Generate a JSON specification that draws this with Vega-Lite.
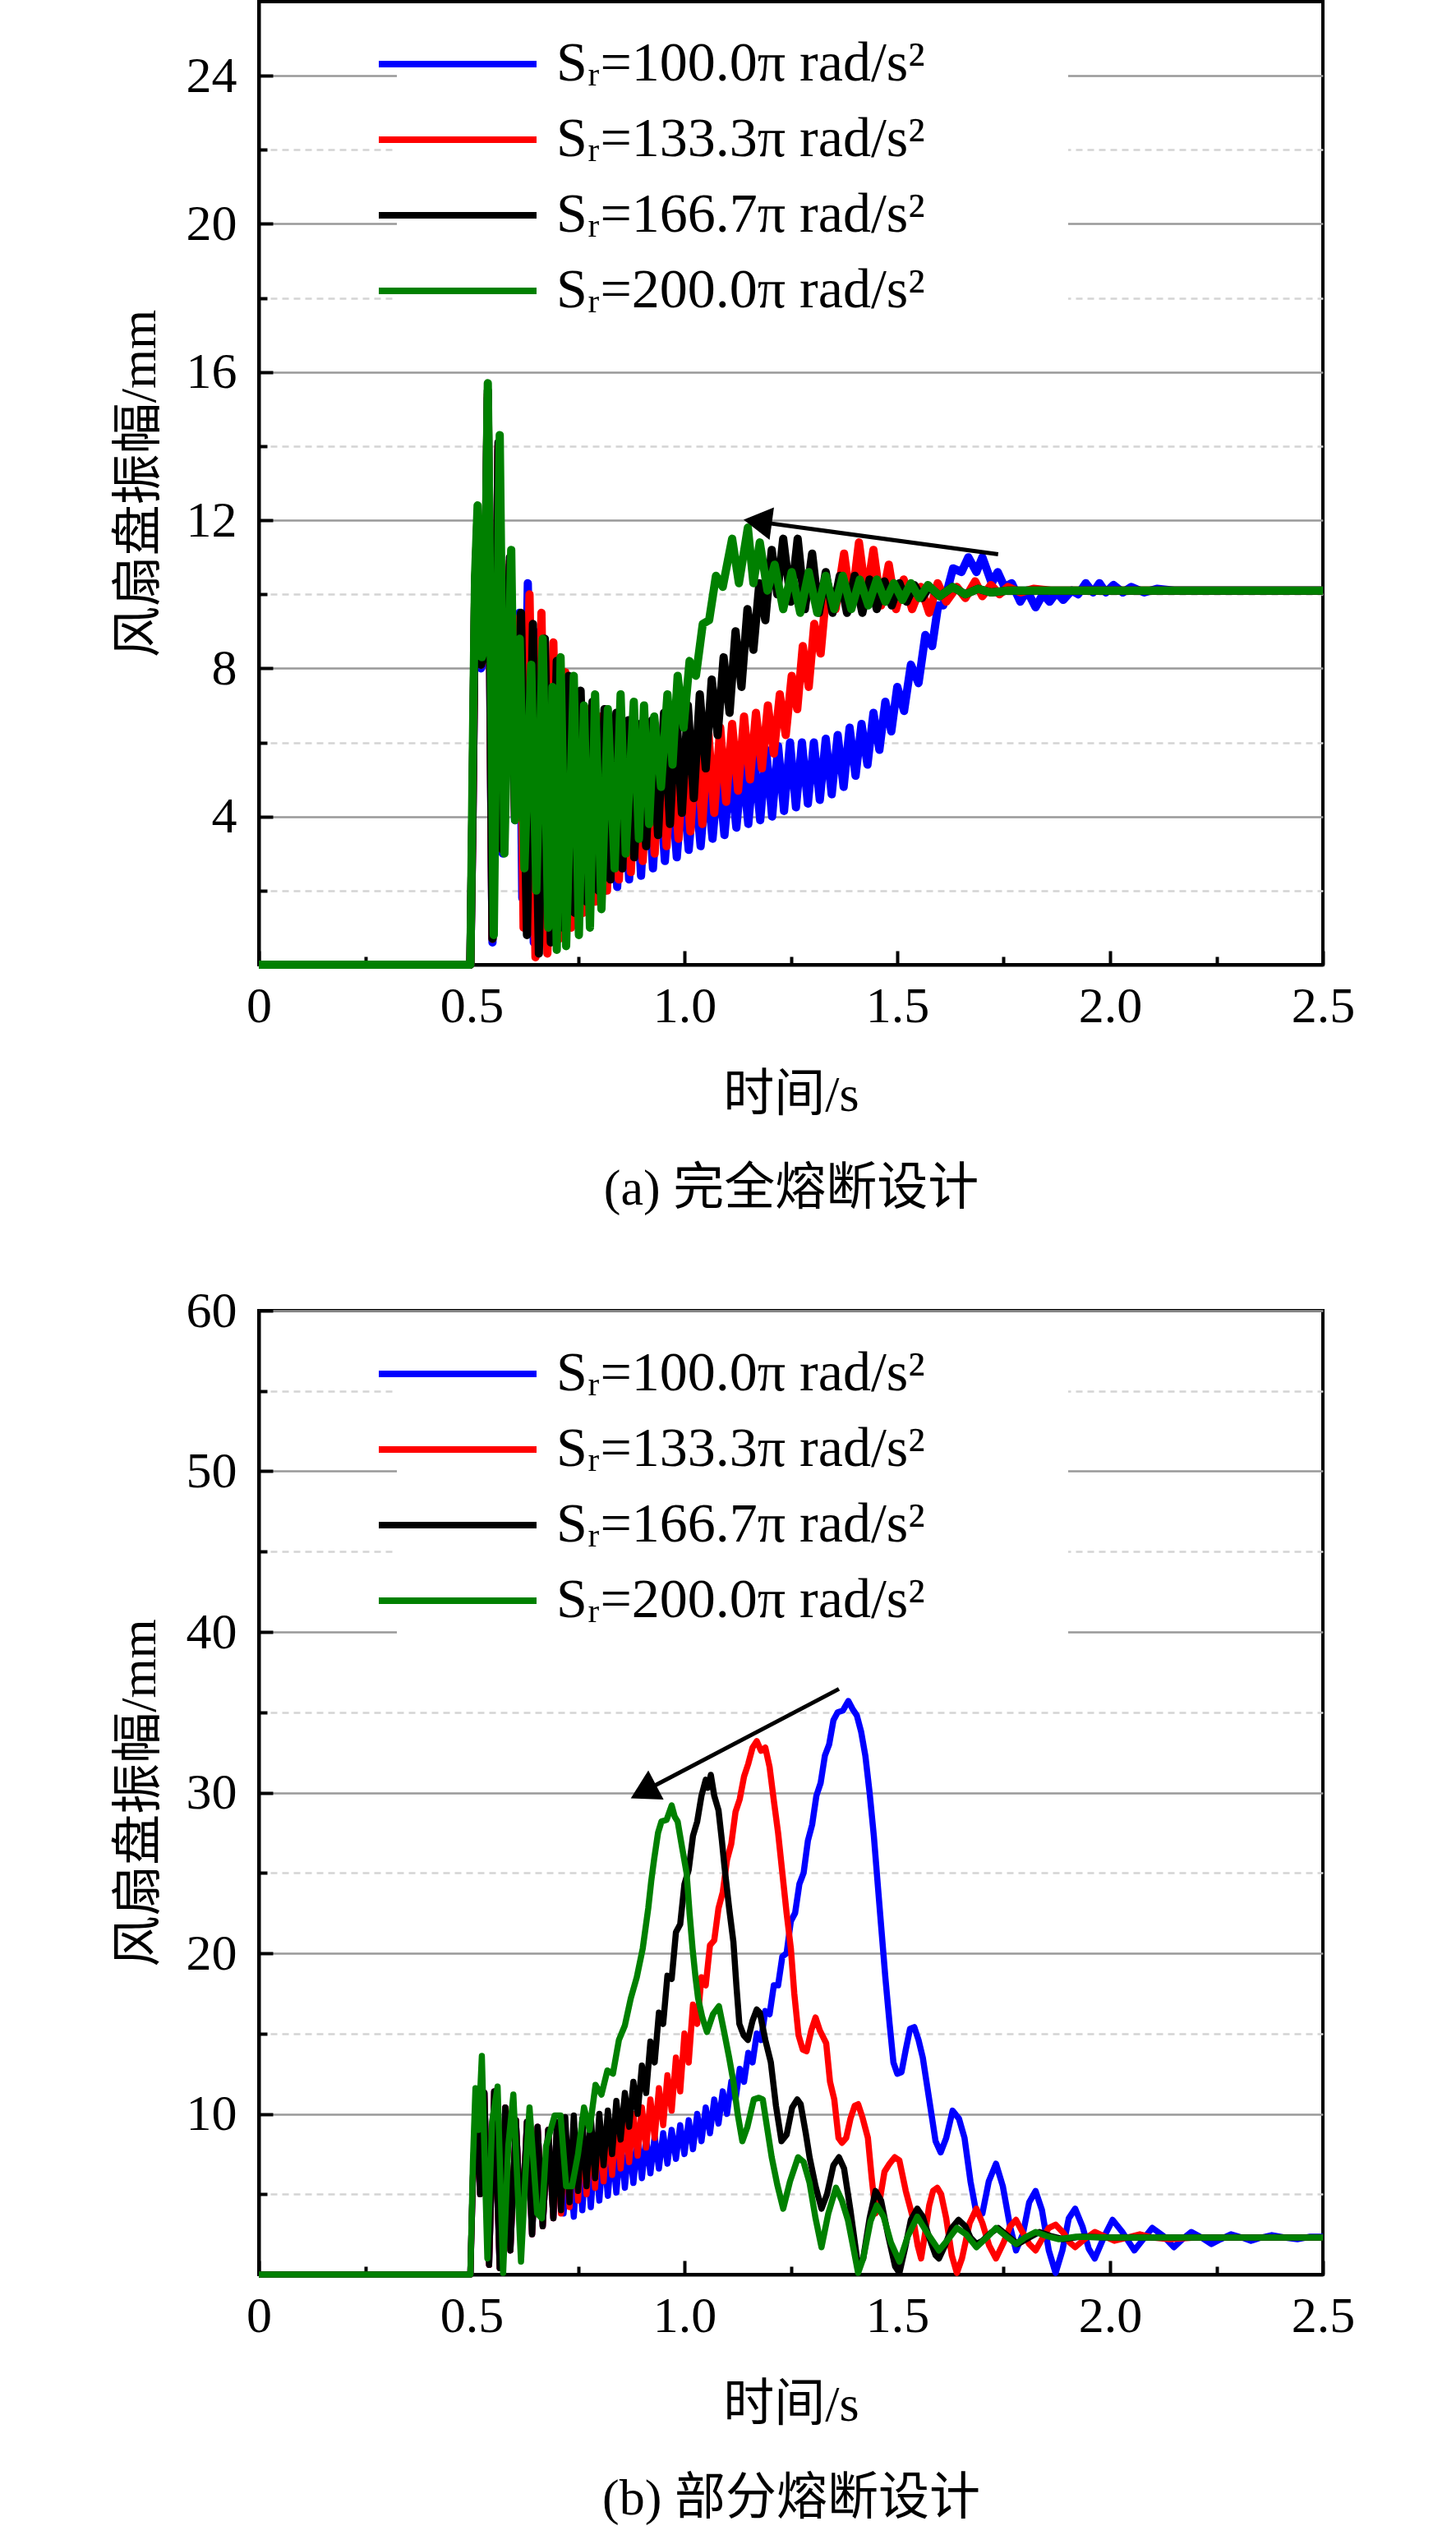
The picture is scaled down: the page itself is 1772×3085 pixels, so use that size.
{
  "$schema": "https://vega.github.io/schema/vega-lite/v6.json",
  "background": "white",
  "padding": {"left": 136, "top": 0, "right": 0, "bottom": 0},
  "bounds": "flush",
  "spacing": 421,
  "config": {
    "view": {"stroke": "black", "strokeWidth": 4},
    "axis": {
      "domainColor": "black", "domainWidth": 4,
      "tickColor": "black", "tickWidth": 4,
      "labelFont": "Liberation Serif", "labelFontSize": 62, "labelColor": "black",
      "titleFont": "Liberation Serif, Noto Sans CJK SC", "titleFontSize": 62,
      "titleFontWeight": "normal", "titleColor": "black"
    }
  },
  "resolve": {"legend": {"color": "independent"}},
  "datasets": {
    "a": [
      {"s":"100.0","t":0,"v":0},{"s":"100.0","t":0.497,"v":0},{"s":"100.0","t":0.502,"v":4},{"s":"100.0","t":0.508,"v":10},{"s":"100.0","t":0.514,"v":12},{"s":"100.0","t":0.522,"v":8},{"s":"100.0","t":0.53,"v":8.3},{"s":"100.0","t":0.538,"v":15.3},{"s":"100.0","t":0.549,"v":0.6},{"s":"100.0","t":0.563,"v":13.9},{"s":"100.0","t":0.573,"v":3},{"s":"100.0","t":0.59,"v":10.8},{"s":"100.0","t":0.602,"v":3.9},{"s":"100.0","t":0.612,"v":9.5},{"s":"100.0","t":0.619,"v":1.8},{"s":"100.0","t":0.632,"v":10.3},{"s":"100.0","t":0.646,"v":0.6},{"s":"100.0","t":0.66,"v":9},{"s":"100.0","t":0.674,"v":0.8},{"s":"100.0","t":0.688,"v":8},{"s":"100.0","t":0.702,"v":1.2},{"s":"100.0","t":0.716,"v":7.3},{"s":"100.0","t":0.73,"v":1.4},{"s":"100.0","t":0.744,"v":6.9},{"s":"100.0","t":0.758,"v":1.6},{"s":"100.0","t":0.772,"v":6.5},{"s":"100.0","t":0.786,"v":1.8},{"s":"100.0","t":0.8,"v":6.2},{"s":"100.0","t":0.814,"v":2},{"s":"100.0","t":0.828,"v":6},{"s":"100.0","t":0.842,"v":2.1},{"s":"100.0","t":0.856,"v":5.8},{"s":"100.0","t":0.87,"v":2.3},{"s":"100.0","t":0.884,"v":5.6},{"s":"100.0","t":0.898,"v":2.4},{"s":"100.0","t":0.912,"v":5.4},{"s":"100.0","t":0.926,"v":2.6},{"s":"100.0","t":0.94,"v":5.2},{"s":"100.0","t":0.954,"v":2.8},{"s":"100.0","t":0.968,"v":5.1},{"s":"100.0","t":0.982,"v":2.9},{"s":"100.0","t":0.996,"v":5},{"s":"100.0","t":1.01,"v":3.1},{"s":"100.0","t":1.024,"v":5},{"s":"100.0","t":1.038,"v":3.2},{"s":"100.0","t":1.052,"v":5.1},{"s":"100.0","t":1.066,"v":3.4},{"s":"100.0","t":1.08,"v":5.2},{"s":"100.0","t":1.094,"v":3.5},{"s":"100.0","t":1.108,"v":5.3},{"s":"100.0","t":1.122,"v":3.7},{"s":"100.0","t":1.136,"v":5.5},{"s":"100.0","t":1.15,"v":3.8},{"s":"100.0","t":1.164,"v":5.6},{"s":"100.0","t":1.178,"v":3.9},{"s":"100.0","t":1.192,"v":5.8},{"s":"100.0","t":1.206,"v":4},{"s":"100.0","t":1.22,"v":5.9},{"s":"100.0","t":1.234,"v":4.15},{"s":"100.0","t":1.248,"v":6},{"s":"100.0","t":1.262,"v":4.25},{"s":"100.0","t":1.276,"v":6},{"s":"100.0","t":1.29,"v":4.35},{"s":"100.0","t":1.304,"v":6},{"s":"100.0","t":1.318,"v":4.45},{"s":"100.0","t":1.332,"v":6.1},{"s":"100.0","t":1.346,"v":4.6},{"s":"100.0","t":1.36,"v":6.2},{"s":"100.0","t":1.374,"v":4.8},{"s":"100.0","t":1.388,"v":6.4},{"s":"100.0","t":1.402,"v":5.1},{"s":"100.0","t":1.416,"v":6.5},{"s":"100.0","t":1.43,"v":5.4},{"s":"100.0","t":1.444,"v":6.8},{"s":"100.0","t":1.458,"v":5.8},{"s":"100.0","t":1.472,"v":7.1},{"s":"100.0","t":1.486,"v":6.3},{"s":"100.0","t":1.5,"v":7.5},{"s":"100.0","t":1.516,"v":6.85},{"s":"100.0","t":1.532,"v":8.1},{"s":"100.0","t":1.55,"v":7.6},{"s":"100.0","t":1.566,"v":8.9},{"s":"100.0","t":1.582,"v":8.6},{"s":"100.0","t":1.596,"v":9.7},{"s":"100.0","t":1.608,"v":9.7},{"s":"100.0","t":1.631,"v":10.7},{"s":"100.0","t":1.651,"v":10.6},{"s":"100.0","t":1.667,"v":11},{"s":"100.0","t":1.686,"v":10.6},{"s":"100.0","t":1.7,"v":11},{"s":"100.0","t":1.722,"v":10.3},{"s":"100.0","t":1.736,"v":10.6},{"s":"100.0","t":1.752,"v":10.2},{"s":"100.0","t":1.769,"v":10.3},{"s":"100.0","t":1.789,"v":9.8},{"s":"100.0","t":1.805,"v":10.1},{"s":"100.0","t":1.825,"v":9.65},{"s":"100.0","t":1.842,"v":10},{"s":"100.0","t":1.858,"v":9.8},{"s":"100.0","t":1.874,"v":10.05},{"s":"100.0","t":1.89,"v":9.85},{"s":"100.0","t":1.91,"v":10.1},{"s":"100.0","t":1.925,"v":10},{"s":"100.0","t":1.943,"v":10.3},{"s":"100.0","t":1.96,"v":10.05},{"s":"100.0","t":1.975,"v":10.3},{"s":"100.0","t":1.99,"v":10.05},{"s":"100.0","t":2.008,"v":10.25},{"s":"100.0","t":2.03,"v":10.05},{"s":"100.0","t":2.05,"v":10.2},{"s":"100.0","t":2.08,"v":10.05},{"s":"100.0","t":2.11,"v":10.15},{"s":"100.0","t":2.15,"v":10.1},{"s":"100.0","t":2.5,"v":10.1},
      {"s":"133.3","t":0,"v":0},{"s":"133.3","t":0.497,"v":0},{"s":"133.3","t":0.502,"v":4},{"s":"133.3","t":0.508,"v":10.1},{"s":"133.3","t":0.514,"v":12.1},{"s":"133.3","t":0.522,"v":8.1},{"s":"133.3","t":0.53,"v":8.4},{"s":"133.3","t":0.538,"v":15.4},{"s":"133.3","t":0.549,"v":0.7},{"s":"133.3","t":0.563,"v":14},{"s":"133.3","t":0.573,"v":3.1},{"s":"133.3","t":0.59,"v":10.9},{"s":"133.3","t":0.602,"v":4},{"s":"133.3","t":0.614,"v":9.4},{"s":"133.3","t":0.622,"v":1},{"s":"133.3","t":0.636,"v":10},{"s":"133.3","t":0.65,"v":0.2},{"s":"133.3","t":0.664,"v":9.5},{"s":"133.3","t":0.678,"v":0.3},{"s":"133.3","t":0.692,"v":8.7},{"s":"133.3","t":0.706,"v":0.7},{"s":"133.3","t":0.72,"v":7.9},{"s":"133.3","t":0.734,"v":1},{"s":"133.3","t":0.748,"v":7.3},{"s":"133.3","t":0.762,"v":1.4},{"s":"133.3","t":0.776,"v":6.9},{"s":"133.3","t":0.79,"v":1.7},{"s":"133.3","t":0.804,"v":6.7},{"s":"133.3","t":0.818,"v":2},{"s":"133.3","t":0.832,"v":6.6},{"s":"133.3","t":0.846,"v":2.3},{"s":"133.3","t":0.86,"v":6.5},{"s":"133.3","t":0.874,"v":2.5},{"s":"133.3","t":0.888,"v":6.4},{"s":"133.3","t":0.902,"v":2.8},{"s":"133.3","t":0.916,"v":6.2},{"s":"133.3","t":0.93,"v":3},{"s":"133.3","t":0.944,"v":6},{"s":"133.3","t":0.958,"v":3.2},{"s":"133.3","t":0.972,"v":5.9},{"s":"133.3","t":0.986,"v":3.4},{"s":"133.3","t":1,"v":5.9},{"s":"133.3","t":1.014,"v":3.6},{"s":"133.3","t":1.028,"v":6.1},{"s":"133.3","t":1.042,"v":3.8},{"s":"133.3","t":1.056,"v":6.3},{"s":"133.3","t":1.07,"v":4.1},{"s":"133.3","t":1.084,"v":6.4},{"s":"133.3","t":1.098,"v":4.4},{"s":"133.3","t":1.112,"v":6.5},{"s":"133.3","t":1.126,"v":4.7},{"s":"133.3","t":1.14,"v":6.7},{"s":"133.3","t":1.154,"v":5},{"s":"133.3","t":1.168,"v":6.8},{"s":"133.3","t":1.182,"v":5.3},{"s":"133.3","t":1.196,"v":7},{"s":"133.3","t":1.21,"v":5.7},{"s":"133.3","t":1.224,"v":7.3},{"s":"133.3","t":1.238,"v":6.2},{"s":"133.3","t":1.252,"v":7.8},{"s":"133.3","t":1.265,"v":6.9},{"s":"133.3","t":1.278,"v":8.6},{"s":"133.3","t":1.292,"v":7.5},{"s":"133.3","t":1.305,"v":9.2},{"s":"133.3","t":1.32,"v":8.4},{"s":"133.3","t":1.335,"v":10.3},{"s":"133.3","t":1.355,"v":9.6},{"s":"133.3","t":1.375,"v":11.1},{"s":"133.3","t":1.392,"v":9.7},{"s":"133.3","t":1.41,"v":11.4},{"s":"133.3","t":1.427,"v":9.9},{"s":"133.3","t":1.444,"v":11.2},{"s":"133.3","t":1.462,"v":9.7},{"s":"133.3","t":1.48,"v":10.8},{"s":"133.3","t":1.497,"v":9.6},{"s":"133.3","t":1.515,"v":10.4},{"s":"133.3","t":1.535,"v":9.6},{"s":"133.3","t":1.555,"v":10.2},{"s":"133.3","t":1.575,"v":9.5},{"s":"133.3","t":1.595,"v":10.3},{"s":"133.3","t":1.615,"v":9.8},{"s":"133.3","t":1.64,"v":10.2},{"s":"133.3","t":1.66,"v":9.9},{"s":"133.3","t":1.683,"v":10.35},{"s":"133.3","t":1.7,"v":9.95},{"s":"133.3","t":1.72,"v":10.25},{"s":"133.3","t":1.74,"v":10},{"s":"133.3","t":1.76,"v":10.2},{"s":"133.3","t":1.79,"v":10.05},{"s":"133.3","t":1.82,"v":10.15},{"s":"133.3","t":1.86,"v":10.1},{"s":"133.3","t":2.5,"v":10.1},
      {"s":"166.7","t":0,"v":0},{"s":"166.7","t":0.497,"v":0},{"s":"166.7","t":0.502,"v":4},{"s":"166.7","t":0.508,"v":10.1},{"s":"166.7","t":0.514,"v":12.1},{"s":"166.7","t":0.522,"v":8.1},{"s":"166.7","t":0.53,"v":8.4},{"s":"166.7","t":0.538,"v":15.5},{"s":"166.7","t":0.549,"v":0.7},{"s":"166.7","t":0.563,"v":14.1},{"s":"166.7","t":0.573,"v":3.1},{"s":"166.7","t":0.59,"v":11},{"s":"166.7","t":0.602,"v":4},{"s":"166.7","t":0.616,"v":9.5},{"s":"166.7","t":0.63,"v":0.8},{"s":"166.7","t":0.644,"v":9.2},{"s":"166.7","t":0.658,"v":0.3},{"s":"166.7","t":0.672,"v":8.8},{"s":"166.7","t":0.686,"v":0.6},{"s":"166.7","t":0.7,"v":8.2},{"s":"166.7","t":0.714,"v":1},{"s":"166.7","t":0.728,"v":7.8},{"s":"166.7","t":0.742,"v":1.4},{"s":"166.7","t":0.756,"v":7.4},{"s":"166.7","t":0.77,"v":1.7},{"s":"166.7","t":0.784,"v":7.1},{"s":"166.7","t":0.798,"v":2},{"s":"166.7","t":0.812,"v":6.9},{"s":"166.7","t":0.826,"v":2.3},{"s":"166.7","t":0.84,"v":6.8},{"s":"166.7","t":0.854,"v":2.6},{"s":"166.7","t":0.868,"v":6.6},{"s":"166.7","t":0.882,"v":2.9},{"s":"166.7","t":0.896,"v":6.5},{"s":"166.7","t":0.91,"v":3.2},{"s":"166.7","t":0.924,"v":6.6},{"s":"166.7","t":0.938,"v":3.5},{"s":"166.7","t":0.952,"v":6.8},{"s":"166.7","t":0.966,"v":3.8},{"s":"166.7","t":0.98,"v":7},{"s":"166.7","t":0.994,"v":4.1},{"s":"166.7","t":1.008,"v":7},{"s":"166.7","t":1.022,"v":4.5},{"s":"166.7","t":1.036,"v":7.3},{"s":"166.7","t":1.05,"v":5.3},{"s":"166.7","t":1.064,"v":7.7},{"s":"166.7","t":1.078,"v":6.2},{"s":"166.7","t":1.092,"v":8.3},{"s":"166.7","t":1.106,"v":6.8},{"s":"166.7","t":1.12,"v":9},{"s":"166.7","t":1.134,"v":7.5},{"s":"166.7","t":1.148,"v":9.6},{"s":"166.7","t":1.162,"v":8.5},{"s":"166.7","t":1.176,"v":10.3},{"s":"166.7","t":1.19,"v":9.3},{"s":"166.7","t":1.205,"v":11.2},{"s":"166.7","t":1.218,"v":10},{"s":"166.7","t":1.232,"v":11.5},{"s":"166.7","t":1.25,"v":9.8},{"s":"166.7","t":1.266,"v":11.5},{"s":"166.7","t":1.283,"v":9.6},{"s":"166.7","t":1.3,"v":11.1},{"s":"166.7","t":1.316,"v":9.5},{"s":"166.7","t":1.332,"v":10.6},{"s":"166.7","t":1.348,"v":9.5},{"s":"166.7","t":1.365,"v":10.5},{"s":"166.7","t":1.382,"v":9.5},{"s":"166.7","t":1.4,"v":10.5},{"s":"166.7","t":1.418,"v":9.5},{"s":"166.7","t":1.435,"v":10.4},{"s":"166.7","t":1.452,"v":9.6},{"s":"166.7","t":1.47,"v":10.35},{"s":"166.7","t":1.487,"v":9.7},{"s":"166.7","t":1.505,"v":10.3},{"s":"166.7","t":1.522,"v":9.8},{"s":"166.7","t":1.54,"v":10.25},{"s":"166.7","t":1.558,"v":9.9},{"s":"166.7","t":1.575,"v":10.2},{"s":"166.7","t":1.6,"v":9.95},{"s":"166.7","t":1.63,"v":10.2},{"s":"166.7","t":1.66,"v":10},{"s":"166.7","t":1.69,"v":10.15},{"s":"166.7","t":1.72,"v":10.05},{"s":"166.7","t":1.76,"v":10.1},{"s":"166.7","t":2.5,"v":10.1},
      {"s":"200.0","t":0,"v":0},{"s":"200.0","t":0.497,"v":0},{"s":"200.0","t":0.503,"v":6},{"s":"200.0","t":0.508,"v":10.5},{"s":"200.0","t":0.514,"v":12.4},{"s":"200.0","t":0.524,"v":8.3},{"s":"200.0","t":0.53,"v":8.5},{"s":"200.0","t":0.538,"v":15.7},{"s":"200.0","t":0.552,"v":0.8},{"s":"200.0","t":0.566,"v":14.3},{"s":"200.0","t":0.577,"v":3},{"s":"200.0","t":0.593,"v":11.2},{"s":"200.0","t":0.602,"v":3.9},{"s":"200.0","t":0.613,"v":8.8},{"s":"200.0","t":0.624,"v":2.6},{"s":"200.0","t":0.64,"v":8.1},{"s":"200.0","t":0.652,"v":2},{"s":"200.0","t":0.667,"v":8.8},{"s":"200.0","t":0.68,"v":1},{"s":"200.0","t":0.69,"v":7.5},{"s":"200.0","t":0.7,"v":0.4},{"s":"200.0","t":0.709,"v":8.3},{"s":"200.0","t":0.722,"v":0.5},{"s":"200.0","t":0.74,"v":7.8},{"s":"200.0","t":0.752,"v":0.8},{"s":"200.0","t":0.764,"v":7},{"s":"200.0","t":0.778,"v":1},{"s":"200.0","t":0.79,"v":7.3},{"s":"200.0","t":0.805,"v":1.5},{"s":"200.0","t":0.82,"v":6.9},{"s":"200.0","t":0.836,"v":2.6},{"s":"200.0","t":0.85,"v":7.3},{"s":"200.0","t":0.862,"v":3},{"s":"200.0","t":0.881,"v":7.1},{"s":"200.0","t":0.893,"v":3.4},{"s":"200.0","t":0.905,"v":7},{"s":"200.0","t":0.917,"v":3.8},{"s":"200.0","t":0.929,"v":6.7},{"s":"200.0","t":0.945,"v":4.8},{"s":"200.0","t":0.96,"v":7.3},{"s":"200.0","t":0.972,"v":5.4},{"s":"200.0","t":0.984,"v":7.8},{"s":"200.0","t":0.998,"v":6.4},{"s":"200.0","t":1.012,"v":8.2},{"s":"200.0","t":1.027,"v":7.8},{"s":"200.0","t":1.043,"v":9.2},{"s":"200.0","t":1.058,"v":9.3},{"s":"200.0","t":1.074,"v":10.5},{"s":"200.0","t":1.09,"v":10.2},{"s":"200.0","t":1.112,"v":11.5},{"s":"200.0","t":1.128,"v":10.3},{"s":"200.0","t":1.149,"v":11.8},{"s":"200.0","t":1.162,"v":10.3},{"s":"200.0","t":1.177,"v":11.4},{"s":"200.0","t":1.195,"v":10.1},{"s":"200.0","t":1.212,"v":10.8},{"s":"200.0","t":1.232,"v":9.6},{"s":"200.0","t":1.252,"v":10.6},{"s":"200.0","t":1.272,"v":9.5},{"s":"200.0","t":1.292,"v":10.6},{"s":"200.0","t":1.312,"v":9.5},{"s":"200.0","t":1.332,"v":10.5},{"s":"200.0","t":1.352,"v":9.6},{"s":"200.0","t":1.372,"v":10.5},{"s":"200.0","t":1.392,"v":9.6},{"s":"200.0","t":1.412,"v":10.4},{"s":"200.0","t":1.432,"v":9.7},{"s":"200.0","t":1.452,"v":10.4},{"s":"200.0","t":1.472,"v":9.8},{"s":"200.0","t":1.492,"v":10.3},{"s":"200.0","t":1.512,"v":9.85},{"s":"200.0","t":1.532,"v":10.3},{"s":"200.0","t":1.552,"v":9.9},{"s":"200.0","t":1.572,"v":10.25},{"s":"200.0","t":1.6,"v":9.95},{"s":"200.0","t":1.63,"v":10.2},{"s":"200.0","t":1.66,"v":10},{"s":"200.0","t":1.69,"v":10.15},{"s":"200.0","t":1.72,"v":10.05},{"s":"200.0","t":1.76,"v":10.1},{"s":"200.0","t":2.5,"v":10.1}
    ],
    "b": [
      {"s":"100.0","t":0,"v":0},{"s":"100.0","t":0.497,"v":0},{"s":"100.0","t":0.503,"v":6},{"s":"100.0","t":0.51,"v":11},{"s":"100.0","t":0.52,"v":5},{"s":"100.0","t":0.53,"v":11.3},{"s":"100.0","t":0.541,"v":0.6},{"s":"100.0","t":0.553,"v":11.4},{"s":"100.0","t":0.566,"v":0.4},{"s":"100.0","t":0.579,"v":10.4},{"s":"100.0","t":0.591,"v":1.5},{"s":"100.0","t":0.604,"v":9.6},{"s":"100.0","t":0.617,"v":2.2},{"s":"100.0","t":0.63,"v":9.5},{"s":"100.0","t":0.642,"v":2.5},{"s":"100.0","t":0.655,"v":9.2},{"s":"100.0","t":0.667,"v":3},{"s":"100.0","t":0.68,"v":9},{"s":"100.0","t":0.692,"v":3.5},{"s":"100.0","t":0.704,"v":7.6},{"s":"100.0","t":0.716,"v":3.8},{"s":"100.0","t":0.728,"v":7.8},{"s":"100.0","t":0.74,"v":3.6},{"s":"100.0","t":0.75,"v":7.6},{"s":"100.0","t":0.76,"v":4},{"s":"100.0","t":0.77,"v":7.8},{"s":"100.0","t":0.78,"v":4.2},{"s":"100.0","t":0.79,"v":7.8},{"s":"100.0","t":0.8,"v":4.6},{"s":"100.0","t":0.81,"v":7.9},{"s":"100.0","t":0.82,"v":4.9},{"s":"100.0","t":0.83,"v":8},{"s":"100.0","t":0.84,"v":5.1},{"s":"100.0","t":0.85,"v":8.2},{"s":"100.0","t":0.86,"v":5.4},{"s":"100.0","t":0.87,"v":8.3},{"s":"100.0","t":0.88,"v":5.7},{"s":"100.0","t":0.89,"v":8.4},{"s":"100.0","t":0.9,"v":6},{"s":"100.0","t":0.91,"v":8.5},{"s":"100.0","t":0.92,"v":6.3},{"s":"100.0","t":0.93,"v":8.6},{"s":"100.0","t":0.94,"v":6.6},{"s":"100.0","t":0.95,"v":8.8},{"s":"100.0","t":0.96,"v":6.9},{"s":"100.0","t":0.97,"v":9},{"s":"100.0","t":0.98,"v":7.2},{"s":"100.0","t":0.99,"v":9.3},{"s":"100.0","t":1,"v":7.5},{"s":"100.0","t":1.01,"v":9.6},{"s":"100.0","t":1.02,"v":7.8},{"s":"100.0","t":1.03,"v":10},{"s":"100.0","t":1.04,"v":8.3},{"s":"100.0","t":1.05,"v":10.4},{"s":"100.0","t":1.06,"v":8.8},{"s":"100.0","t":1.07,"v":10.9},{"s":"100.0","t":1.08,"v":9.4},{"s":"100.0","t":1.09,"v":11.4},{"s":"100.0","t":1.1,"v":10},{"s":"100.0","t":1.11,"v":12},{"s":"100.0","t":1.12,"v":10.9},{"s":"100.0","t":1.13,"v":12.8},{"s":"100.0","t":1.14,"v":12},{"s":"100.0","t":1.15,"v":13.8},{"s":"100.0","t":1.16,"v":13.2},{"s":"100.0","t":1.17,"v":15},{"s":"100.0","t":1.18,"v":14.6},{"s":"100.0","t":1.19,"v":16.4},{"s":"100.0","t":1.2,"v":16.2},{"s":"100.0","t":1.21,"v":18},{"s":"100.0","t":1.22,"v":18},{"s":"100.0","t":1.23,"v":19.8},{"s":"100.0","t":1.24,"v":20},{"s":"100.0","t":1.25,"v":22},{"s":"100.0","t":1.26,"v":22.5},{"s":"100.0","t":1.27,"v":24.3},{"s":"100.0","t":1.28,"v":25},{"s":"100.0","t":1.29,"v":27},{"s":"100.0","t":1.3,"v":28},{"s":"100.0","t":1.31,"v":29.8},{"s":"100.0","t":1.32,"v":30.6},{"s":"100.0","t":1.33,"v":32.3},{"s":"100.0","t":1.34,"v":33},{"s":"100.0","t":1.35,"v":34.5},{"s":"100.0","t":1.36,"v":35},{"s":"100.0","t":1.372,"v":35.1},{"s":"100.0","t":1.385,"v":35.7},{"s":"100.0","t":1.395,"v":35.2},{"s":"100.0","t":1.405,"v":34.8},{"s":"100.0","t":1.415,"v":33.8},{"s":"100.0","t":1.425,"v":32.3},{"s":"100.0","t":1.435,"v":30},{"s":"100.0","t":1.445,"v":27.3},{"s":"100.0","t":1.455,"v":24},{"s":"100.0","t":1.463,"v":21.4},{"s":"100.0","t":1.472,"v":18.5},{"s":"100.0","t":1.482,"v":15.6},{"s":"100.0","t":1.491,"v":13.2},{"s":"100.0","t":1.5,"v":12.5},{"s":"100.0","t":1.51,"v":12.6},{"s":"100.0","t":1.52,"v":14},{"s":"100.0","t":1.53,"v":15.3},{"s":"100.0","t":1.54,"v":15.4},{"s":"100.0","t":1.55,"v":14.6},{"s":"100.0","t":1.56,"v":13.5},{"s":"100.0","t":1.575,"v":10.9},{"s":"100.0","t":1.59,"v":8.3},{"s":"100.0","t":1.602,"v":7.6},{"s":"100.0","t":1.615,"v":8.5},{"s":"100.0","t":1.63,"v":10.2},{"s":"100.0","t":1.645,"v":9.7},{"s":"100.0","t":1.658,"v":8.5},{"s":"100.0","t":1.672,"v":5.8},{"s":"100.0","t":1.686,"v":3.8},{"s":"100.0","t":1.7,"v":3.8},{"s":"100.0","t":1.715,"v":5.8},{"s":"100.0","t":1.732,"v":6.9},{"s":"100.0","t":1.748,"v":5.5},{"s":"100.0","t":1.765,"v":3},{"s":"100.0","t":1.779,"v":1.5},{"s":"100.0","t":1.795,"v":2.5},{"s":"100.0","t":1.81,"v":4.5},{"s":"100.0","t":1.825,"v":5.2},{"s":"100.0","t":1.84,"v":4},{"s":"100.0","t":1.856,"v":1.5},{"s":"100.0","t":1.872,"v":0.1},{"s":"100.0","t":1.888,"v":1.5},{"s":"100.0","t":1.903,"v":3.5},{"s":"100.0","t":1.918,"v":4.1},{"s":"100.0","t":1.935,"v":3},{"s":"100.0","t":1.95,"v":1.6},{"s":"100.0","t":1.964,"v":1},{"s":"100.0","t":1.985,"v":2.3},{"s":"100.0","t":2.006,"v":3.4},{"s":"100.0","t":2.03,"v":2.6},{"s":"100.0","t":2.057,"v":1.5},{"s":"100.0","t":2.078,"v":2.2},{"s":"100.0","t":2.099,"v":2.9},{"s":"100.0","t":2.125,"v":2.4},{"s":"100.0","t":2.15,"v":1.7},{"s":"100.0","t":2.17,"v":2.2},{"s":"100.0","t":2.191,"v":2.65},{"s":"100.0","t":2.215,"v":2.3},{"s":"100.0","t":2.238,"v":1.9},{"s":"100.0","t":2.26,"v":2.2},{"s":"100.0","t":2.284,"v":2.5},{"s":"100.0","t":2.31,"v":2.3},{"s":"100.0","t":2.331,"v":2.1},{"s":"100.0","t":2.355,"v":2.3},{"s":"100.0","t":2.38,"v":2.45},{"s":"100.0","t":2.41,"v":2.3},{"s":"100.0","t":2.44,"v":2.2},{"s":"100.0","t":2.47,"v":2.35},{"s":"100.0","t":2.5,"v":2.35},
      {"s":"133.3","t":0,"v":0},{"s":"133.3","t":0.497,"v":0},{"s":"133.3","t":0.503,"v":6},{"s":"133.3","t":0.51,"v":11},{"s":"133.3","t":0.52,"v":5},{"s":"133.3","t":0.53,"v":11.3},{"s":"133.3","t":0.541,"v":0.6},{"s":"133.3","t":0.553,"v":11.4},{"s":"133.3","t":0.566,"v":0.4},{"s":"133.3","t":0.579,"v":10.4},{"s":"133.3","t":0.591,"v":1.5},{"s":"133.3","t":0.604,"v":9.6},{"s":"133.3","t":0.617,"v":2.2},{"s":"133.3","t":0.63,"v":9.5},{"s":"133.3","t":0.642,"v":2.5},{"s":"133.3","t":0.655,"v":9.2},{"s":"133.3","t":0.667,"v":3},{"s":"133.3","t":0.68,"v":9},{"s":"133.3","t":0.692,"v":3.5},{"s":"133.3","t":0.7,"v":8.8},{"s":"133.3","t":0.71,"v":3.8},{"s":"133.3","t":0.72,"v":9},{"s":"133.3","t":0.73,"v":4.2},{"s":"133.3","t":0.74,"v":9.2},{"s":"133.3","t":0.75,"v":4.6},{"s":"133.3","t":0.76,"v":9},{"s":"133.3","t":0.77,"v":5},{"s":"133.3","t":0.78,"v":9},{"s":"133.3","t":0.79,"v":5.4},{"s":"133.3","t":0.8,"v":9.2},{"s":"133.3","t":0.81,"v":5.8},{"s":"133.3","t":0.82,"v":9.4},{"s":"133.3","t":0.83,"v":6.2},{"s":"133.3","t":0.84,"v":9.6},{"s":"133.3","t":0.85,"v":6.6},{"s":"133.3","t":0.86,"v":9.8},{"s":"133.3","t":0.87,"v":7},{"s":"133.3","t":0.88,"v":10},{"s":"133.3","t":0.89,"v":7.4},{"s":"133.3","t":0.9,"v":10.4},{"s":"133.3","t":0.91,"v":7.9},{"s":"133.3","t":0.92,"v":10.9},{"s":"133.3","t":0.93,"v":8.5},{"s":"133.3","t":0.94,"v":11.6},{"s":"133.3","t":0.95,"v":9.3},{"s":"133.3","t":0.96,"v":12.4},{"s":"133.3","t":0.97,"v":10.2},{"s":"133.3","t":0.98,"v":13.5},{"s":"133.3","t":0.99,"v":11.4},{"s":"133.3","t":1,"v":15},{"s":"133.3","t":1.01,"v":13.2},{"s":"133.3","t":1.02,"v":16.8},{"s":"133.3","t":1.03,"v":15.6},{"s":"133.3","t":1.04,"v":18.5},{"s":"133.3","t":1.05,"v":18},{"s":"133.3","t":1.06,"v":20.5},{"s":"133.3","t":1.07,"v":20.8},{"s":"133.3","t":1.08,"v":22.8},{"s":"133.3","t":1.09,"v":23.8},{"s":"133.3","t":1.1,"v":25.8},{"s":"133.3","t":1.11,"v":26.8},{"s":"133.3","t":1.12,"v":28.8},{"s":"133.3","t":1.13,"v":29.6},{"s":"133.3","t":1.14,"v":31},{"s":"133.3","t":1.15,"v":31.8},{"s":"133.3","t":1.16,"v":32.8},{"s":"133.3","t":1.17,"v":33.2},{"s":"133.3","t":1.18,"v":32.6},{"s":"133.3","t":1.19,"v":32.8},{"s":"133.3","t":1.2,"v":31.6},{"s":"133.3","t":1.21,"v":29.5},{"s":"133.3","t":1.22,"v":27.5},{"s":"133.3","t":1.23,"v":25},{"s":"133.3","t":1.24,"v":22.5},{"s":"133.3","t":1.25,"v":20.3},{"s":"133.3","t":1.258,"v":17.5},{"s":"133.3","t":1.268,"v":14.9},{"s":"133.3","t":1.278,"v":14},{"s":"133.3","t":1.287,"v":13.9},{"s":"133.3","t":1.298,"v":15.2},{"s":"133.3","t":1.308,"v":16},{"s":"133.3","t":1.318,"v":15.2},{"s":"133.3","t":1.333,"v":14.4},{"s":"133.3","t":1.342,"v":12},{"s":"133.3","t":1.352,"v":10.9},{"s":"133.3","t":1.362,"v":8.5},{"s":"133.3","t":1.37,"v":8.2},{"s":"133.3","t":1.38,"v":8.5},{"s":"133.3","t":1.39,"v":9.7},{"s":"133.3","t":1.4,"v":10.5},{"s":"133.3","t":1.408,"v":10.6},{"s":"133.3","t":1.418,"v":9.8},{"s":"133.3","t":1.431,"v":8.5},{"s":"133.3","t":1.44,"v":6},{"s":"133.3","t":1.449,"v":3.8},{"s":"133.3","t":1.46,"v":4.8},{"s":"133.3","t":1.47,"v":6.4},{"s":"133.3","t":1.482,"v":6.9},{"s":"133.3","t":1.494,"v":7.3},{"s":"133.3","t":1.505,"v":7.1},{"s":"133.3","t":1.52,"v":5.2},{"s":"133.3","t":1.538,"v":3.4},{"s":"133.3","t":1.548,"v":1.8},{"s":"133.3","t":1.556,"v":1},{"s":"133.3","t":1.565,"v":2.5},{"s":"133.3","t":1.575,"v":4.3},{"s":"133.3","t":1.584,"v":5.2},{"s":"133.3","t":1.594,"v":5.4},{"s":"133.3","t":1.603,"v":5},{"s":"133.3","t":1.615,"v":3.5},{"s":"133.3","t":1.628,"v":1.2},{"s":"133.3","t":1.64,"v":0.1},{"s":"133.3","t":1.652,"v":1},{"s":"133.3","t":1.67,"v":3.2},{"s":"133.3","t":1.686,"v":4.1},{"s":"133.3","t":1.7,"v":3.2},{"s":"133.3","t":1.716,"v":1.8},{"s":"133.3","t":1.732,"v":1},{"s":"133.3","t":1.75,"v":2},{"s":"133.3","t":1.765,"v":3},{"s":"133.3","t":1.779,"v":3.4},{"s":"133.3","t":1.795,"v":2.6},{"s":"133.3","t":1.81,"v":1.9},{"s":"133.3","t":1.825,"v":1.5},{"s":"133.3","t":1.84,"v":2.2},{"s":"133.3","t":1.856,"v":2.9},{"s":"133.3","t":1.872,"v":3.1},{"s":"133.3","t":1.89,"v":2.6},{"s":"133.3","t":1.905,"v":2},{"s":"133.3","t":1.918,"v":1.7},{"s":"133.3","t":1.94,"v":2.2},{"s":"133.3","t":1.964,"v":2.65},{"s":"133.3","t":1.985,"v":2.4},{"s":"133.3","t":2.01,"v":2.1},{"s":"133.3","t":2.04,"v":2.3},{"s":"133.3","t":2.07,"v":2.5},{"s":"133.3","t":2.1,"v":2.3},{"s":"133.3","t":2.14,"v":2.2},{"s":"133.3","t":2.2,"v":2.3},{"s":"133.3","t":2.5,"v":2.3},
      {"s":"166.7","t":0,"v":0},{"s":"166.7","t":0.497,"v":0},{"s":"166.7","t":0.503,"v":6},{"s":"166.7","t":0.51,"v":11},{"s":"166.7","t":0.52,"v":5},{"s":"166.7","t":0.53,"v":11.3},{"s":"166.7","t":0.541,"v":0.6},{"s":"166.7","t":0.553,"v":11.4},{"s":"166.7","t":0.566,"v":0.4},{"s":"166.7","t":0.579,"v":10.4},{"s":"166.7","t":0.591,"v":1.5},{"s":"166.7","t":0.604,"v":9.6},{"s":"166.7","t":0.617,"v":2.2},{"s":"166.7","t":0.63,"v":9.5},{"s":"166.7","t":0.642,"v":2.5},{"s":"166.7","t":0.655,"v":9.2},{"s":"166.7","t":0.667,"v":3},{"s":"166.7","t":0.68,"v":9},{"s":"166.7","t":0.692,"v":3.5},{"s":"166.7","t":0.7,"v":9.5},{"s":"166.7","t":0.71,"v":4},{"s":"166.7","t":0.72,"v":9.8},{"s":"166.7","t":0.73,"v":4.5},{"s":"166.7","t":0.74,"v":9.9},{"s":"166.7","t":0.75,"v":5.2},{"s":"166.7","t":0.76,"v":9.7},{"s":"166.7","t":0.77,"v":5.5},{"s":"166.7","t":0.78,"v":9.8},{"s":"166.7","t":0.79,"v":6},{"s":"166.7","t":0.8,"v":10},{"s":"166.7","t":0.81,"v":6.8},{"s":"166.7","t":0.82,"v":10.2},{"s":"166.7","t":0.83,"v":7.5},{"s":"166.7","t":0.84,"v":10.8},{"s":"166.7","t":0.85,"v":8.4},{"s":"166.7","t":0.86,"v":11.3},{"s":"166.7","t":0.87,"v":9.2},{"s":"166.7","t":0.88,"v":12},{"s":"166.7","t":0.89,"v":10},{"s":"166.7","t":0.9,"v":13},{"s":"166.7","t":0.91,"v":11.3},{"s":"166.7","t":0.92,"v":14.5},{"s":"166.7","t":0.93,"v":13.2},{"s":"166.7","t":0.94,"v":16.3},{"s":"166.7","t":0.95,"v":15.6},{"s":"166.7","t":0.96,"v":18.6},{"s":"166.7","t":0.97,"v":18.4},{"s":"166.7","t":0.98,"v":21.3},{"s":"166.7","t":0.99,"v":21.8},{"s":"166.7","t":1,"v":24.3},{"s":"166.7","t":1.01,"v":25.2},{"s":"166.7","t":1.02,"v":27.3},{"s":"166.7","t":1.03,"v":28.2},{"s":"166.7","t":1.04,"v":29.8},{"s":"166.7","t":1.05,"v":30.8},{"s":"166.7","t":1.055,"v":30.3},{"s":"166.7","t":1.062,"v":31.1},{"s":"166.7","t":1.07,"v":29.8},{"s":"166.7","t":1.08,"v":28.9},{"s":"166.7","t":1.088,"v":27},{"s":"166.7","t":1.094,"v":25.4},{"s":"166.7","t":1.105,"v":22.8},{"s":"166.7","t":1.115,"v":20.7},{"s":"166.7","t":1.122,"v":18},{"s":"166.7","t":1.129,"v":15.6},{"s":"166.7","t":1.139,"v":14.9},{"s":"166.7","t":1.149,"v":14.6},{"s":"166.7","t":1.16,"v":15.8},{"s":"166.7","t":1.17,"v":16.5},{"s":"166.7","t":1.177,"v":16.3},{"s":"166.7","t":1.19,"v":14.6},{"s":"166.7","t":1.203,"v":13.2},{"s":"166.7","t":1.215,"v":10.5},{"s":"166.7","t":1.228,"v":8.3},{"s":"166.7","t":1.24,"v":8.7},{"s":"166.7","t":1.253,"v":10.4},{"s":"166.7","t":1.265,"v":10.9},{"s":"166.7","t":1.273,"v":10.6},{"s":"166.7","t":1.285,"v":8.8},{"s":"166.7","t":1.294,"v":7.3},{"s":"166.7","t":1.308,"v":5.5},{"s":"166.7","t":1.322,"v":4.1},{"s":"166.7","t":1.335,"v":5},{"s":"166.7","t":1.35,"v":6.8},{"s":"166.7","t":1.363,"v":7.3},{"s":"166.7","t":1.375,"v":6.6},{"s":"166.7","t":1.39,"v":4},{"s":"166.7","t":1.408,"v":0.5},{"s":"166.7","t":1.42,"v":1},{"s":"166.7","t":1.435,"v":3.5},{"s":"166.7","t":1.449,"v":5.2},{"s":"166.7","t":1.462,"v":4.6},{"s":"166.7","t":1.478,"v":2.5},{"s":"166.7","t":1.495,"v":0.5},{"s":"166.7","t":1.505,"v":0.1},{"s":"166.7","t":1.518,"v":1.6},{"s":"166.7","t":1.532,"v":3.4},{"s":"166.7","t":1.547,"v":4.1},{"s":"166.7","t":1.56,"v":3.6},{"s":"166.7","t":1.575,"v":2.3},{"s":"166.7","t":1.59,"v":1.2},{"s":"166.7","t":1.598,"v":1},{"s":"166.7","t":1.612,"v":1.8},{"s":"166.7","t":1.628,"v":2.9},{"s":"166.7","t":1.644,"v":3.4},{"s":"166.7","t":1.66,"v":3},{"s":"166.7","t":1.672,"v":2.3},{"s":"166.7","t":1.686,"v":1.9},{"s":"166.7","t":1.7,"v":2.1},{"s":"166.7","t":1.72,"v":2.6},{"s":"166.7","t":1.737,"v":2.9},{"s":"166.7","t":1.76,"v":2.4},{"s":"166.7","t":1.783,"v":1.9},{"s":"166.7","t":1.81,"v":2.3},{"s":"166.7","t":1.834,"v":2.65},{"s":"166.7","t":1.86,"v":2.4},{"s":"166.7","t":1.89,"v":2.2},{"s":"166.7","t":1.93,"v":2.35},{"s":"166.7","t":2,"v":2.3},{"s":"166.7","t":2.5,"v":2.3},
      {"s":"200.0","t":0,"v":0},{"s":"200.0","t":0.497,"v":0},{"s":"200.0","t":0.503,"v":7},{"s":"200.0","t":0.509,"v":11.6},{"s":"200.0","t":0.516,"v":9},{"s":"200.0","t":0.524,"v":13.6},{"s":"200.0","t":0.537,"v":1},{"s":"200.0","t":0.548,"v":9.5},{"s":"200.0","t":0.561,"v":11.7},{"s":"200.0","t":0.574,"v":0.1},{"s":"200.0","t":0.586,"v":8},{"s":"200.0","t":0.598,"v":11.2},{"s":"200.0","t":0.616,"v":0.8},{"s":"200.0","t":0.626,"v":6},{"s":"200.0","t":0.636,"v":10.4},{"s":"200.0","t":0.654,"v":3.8},{"s":"200.0","t":0.665,"v":3.5},{"s":"200.0","t":0.675,"v":8},{"s":"200.0","t":0.695,"v":9.9},{"s":"200.0","t":0.709,"v":9.9},{"s":"200.0","t":0.722,"v":5.5},{"s":"200.0","t":0.736,"v":5.5},{"s":"200.0","t":0.75,"v":7.5},{"s":"200.0","t":0.764,"v":10.4},{"s":"200.0","t":0.777,"v":9},{"s":"200.0","t":0.791,"v":11.8},{"s":"200.0","t":0.805,"v":11.2},{"s":"200.0","t":0.819,"v":12.7},{"s":"200.0","t":0.832,"v":12.5},{"s":"200.0","t":0.846,"v":14.6},{"s":"200.0","t":0.86,"v":15.5},{"s":"200.0","t":0.874,"v":17.2},{"s":"200.0","t":0.888,"v":18.5},{"s":"200.0","t":0.902,"v":20.3},{"s":"200.0","t":0.915,"v":22.8},{"s":"200.0","t":0.922,"v":24.5},{"s":"200.0","t":0.929,"v":25.9},{"s":"200.0","t":0.938,"v":27.5},{"s":"200.0","t":0.946,"v":28.2},{"s":"200.0","t":0.958,"v":28.3},{"s":"200.0","t":0.97,"v":29.2},{"s":"200.0","t":0.977,"v":28.5},{"s":"200.0","t":0.984,"v":28.2},{"s":"200.0","t":0.995,"v":26.5},{"s":"200.0","t":1.005,"v":25},{"s":"200.0","t":1.012,"v":22.5},{"s":"200.0","t":1.019,"v":20.3},{"s":"200.0","t":1.026,"v":18.5},{"s":"200.0","t":1.032,"v":17.2},{"s":"200.0","t":1.042,"v":16},{"s":"200.0","t":1.053,"v":15.1},{"s":"200.0","t":1.067,"v":16.2},{"s":"200.0","t":1.081,"v":16.7},{"s":"200.0","t":1.094,"v":15},{"s":"200.0","t":1.105,"v":13.5},{"s":"200.0","t":1.115,"v":12},{"s":"200.0","t":1.125,"v":10},{"s":"200.0","t":1.136,"v":8.3},{"s":"200.0","t":1.148,"v":9.2},{"s":"200.0","t":1.163,"v":10.9},{"s":"200.0","t":1.175,"v":11},{"s":"200.0","t":1.184,"v":10.9},{"s":"200.0","t":1.195,"v":9},{"s":"200.0","t":1.205,"v":7.3},{"s":"200.0","t":1.218,"v":5.6},{"s":"200.0","t":1.232,"v":4.1},{"s":"200.0","t":1.248,"v":5.8},{"s":"200.0","t":1.267,"v":7.3},{"s":"200.0","t":1.28,"v":7},{"s":"200.0","t":1.294,"v":5.7},{"s":"200.0","t":1.308,"v":3.5},{"s":"200.0","t":1.322,"v":1.7},{"s":"200.0","t":1.338,"v":3.8},{"s":"200.0","t":1.356,"v":5.4},{"s":"200.0","t":1.37,"v":4.6},{"s":"200.0","t":1.384,"v":3.4},{"s":"200.0","t":1.398,"v":1.5},{"s":"200.0","t":1.408,"v":0.1},{"s":"200.0","t":1.42,"v":1},{"s":"200.0","t":1.437,"v":3.3},{"s":"200.0","t":1.452,"v":4.3},{"s":"200.0","t":1.468,"v":3.6},{"s":"200.0","t":1.485,"v":2},{"s":"200.0","t":1.505,"v":0.8},{"s":"200.0","t":1.525,"v":2.4},{"s":"200.0","t":1.547,"v":3.6},{"s":"200.0","t":1.57,"v":2.6},{"s":"200.0","t":1.598,"v":1.5},{"s":"200.0","t":1.62,"v":2.2},{"s":"200.0","t":1.64,"v":2.9},{"s":"200.0","t":1.662,"v":2.5},{"s":"200.0","t":1.686,"v":1.7},{"s":"200.0","t":1.71,"v":2.3},{"s":"200.0","t":1.732,"v":2.9},{"s":"200.0","t":1.755,"v":2.4},{"s":"200.0","t":1.779,"v":1.9},{"s":"200.0","t":1.8,"v":2.3},{"s":"200.0","t":1.825,"v":2.65},{"s":"200.0","t":1.85,"v":2.4},{"s":"200.0","t":1.88,"v":2.2},{"s":"200.0","t":1.92,"v":2.35},{"s":"200.0","t":2,"v":2.3},{"s":"200.0","t":2.5,"v":2.3}
    ]
  },
  "vconcat": [
    {
      "width": 1295,
      "height": 1172,
      "encoding": {
        "x": {
          "field": "t", "type": "quantitative",
          "scale": {"domain": [0, 2.5], "nice": false, "zero": false},
          "axis": {
            "values": [0, 0.25, 0.5, 0.75, 1, 1.25, 1.5, 1.75, 2, 2.25, 2.5],
            "labelExpr": "datum.value === 0 ? '0' : (round(datum.value * 4) % 2 === 0 ? format(datum.value, '.1f') : '')",
            "tickSize": {"condition": {"test": "round(datum.value * 4) % 2 !== 0", "value": -10}, "value": -17},
            "grid": false,
            "labelPadding": 37,
            "labelFlush": false,
            "title": ["时间/s", "(a) 完全熔断设计"],
            "titleLineHeight": 114,
            "titlePadding": 47
          }
        },
        "y": {
          "field": "v", "type": "quantitative",
          "scale": {"domain": [0, 26], "nice": false},
          "axis": {
            "values": [2, 4, 6, 8, 10, 12, 14, 16, 18, 20, 22, 24],
            "labelExpr": "datum.value % 4 === 0 ? datum.label : ''",
            "tickSize": {"condition": {"test": "datum.value % 4 !== 0", "value": -10}, "value": -17},
            "grid": true,
            "gridWidth": 2.5,
            "gridColor": {"condition": {"test": "datum.value % 4 !== 0", "value": "#d4d4d4"}, "value": "#999999"},
            "gridDash": {"condition": {"test": "datum.value % 4 !== 0", "value": [8, 6]}, "value": []},
            "labelPadding": 44,
            "title": "风扇盘振幅/mm",
            "titlePadding": 25
          }
        }
      },
      "layer": [
        {
          "data": {"name": "a"},
          "mark": {"type": "line", "strokeWidth": 10, "strokeJoin": "round"},
          "encoding": {
            "color": {
              "field": "s", "type": "nominal",
              "scale": {"domain": ["100.0", "133.3", "166.7", "200.0"], "range": ["#0000ff", "#ff0000", "#000000", "#008000"]},
              "legend": {
                "orient": "none", "legendX": 168, "legendY": 2,
                "title": null,
                "symbolType": "M-6,0H6", "symbolSize": 1024, "symbolStrokeWidth": 8,
                "labelFont": "Liberation Serif", "labelFontSize": 68, "labelColor": "black",
                "labelOffset": 86, "rowPadding": 24, "padding": 40,
                "fillColor": "white", "labelLimit": 0,
                "labelExpr": "'Sᵣ=' + datum.label + 'π rad/s²\u2800\u00a0\u00a0\u2800'"
              }
            }
          }
        },
        {
          "data": {"values": [{"t": 1.737, "v": 11.08, "t2": 1.172, "v2": 11.96}]},
          "mark": {"type": "rule", "strokeWidth": 5, "color": "black"},
          "encoding": {"x2": {"field": "t2"}, "y2": {"field": "v2"}}
        },
        {
          "data": {"values": [{"t": 1.172, "v": 11.96}]},
          "mark": {"type": "point", "shape": "triangle-up", "filled": true, "color": "black", "opacity": 1, "size": 1600, "angle": 277.7}
        }
      ]
    },
    {
      "width": 1295,
      "height": 1173,
      "encoding": {
        "x": {
          "field": "t", "type": "quantitative",
          "scale": {"domain": [0, 2.5], "nice": false, "zero": false},
          "axis": {
            "values": [0, 0.25, 0.5, 0.75, 1, 1.25, 1.5, 1.75, 2, 2.25, 2.5],
            "labelExpr": "datum.value === 0 ? '0' : (round(datum.value * 4) % 2 === 0 ? format(datum.value, '.1f') : '')",
            "tickSize": {"condition": {"test": "round(datum.value * 4) % 2 !== 0", "value": -10}, "value": -17},
            "grid": false,
            "labelPadding": 37,
            "labelFlush": false,
            "title": ["时间/s", "(b) 部分熔断设计"],
            "titleLineHeight": 114,
            "titlePadding": 47
          }
        },
        "y": {
          "field": "v", "type": "quantitative",
          "scale": {"domain": [0, 60], "nice": false},
          "axis": {
            "values": [5, 10, 15, 20, 25, 30, 35, 40, 45, 50, 55, 60],
            "labelExpr": "datum.value % 10 === 0 ? datum.label : ''",
            "tickSize": {"condition": {"test": "datum.value % 10 !== 0", "value": -10}, "value": -17},
            "grid": true,
            "gridWidth": 2.5,
            "gridColor": {"condition": {"test": "datum.value % 10 !== 0", "value": "#d4d4d4"}, "value": "#999999"},
            "gridDash": {"condition": {"test": "datum.value % 10 !== 0", "value": [8, 6]}, "value": []},
            "labelPadding": 44,
            "title": "风扇盘振幅/mm",
            "titlePadding": 25
          }
        }
      },
      "layer": [
        {
          "data": {"name": "b"},
          "mark": {"type": "line", "strokeWidth": 7.5, "strokeJoin": "round"},
          "encoding": {
            "color": {
              "field": "s", "type": "nominal",
              "scale": {"domain": ["100.0", "133.3", "166.7", "200.0"], "range": ["#0000ff", "#ff0000", "#000000", "#008000"]},
              "legend": {
                "orient": "none", "legendX": 168, "legendY": 3,
                "title": null,
                "symbolType": "M-6,0H6", "symbolSize": 1024, "symbolStrokeWidth": 8,
                "labelFont": "Liberation Serif", "labelFontSize": 68, "labelColor": "black",
                "labelOffset": 86, "rowPadding": 24, "padding": 40,
                "fillColor": "white", "labelLimit": 0,
                "labelExpr": "'Sᵣ=' + datum.label + 'π rad/s²\u2800\u00a0\u00a0\u2800'"
              }
            }
          }
        },
        {
          "data": {"values": [{"t": 1.363, "v": 36.45, "t2": 0.9035, "v2": 30.06}]},
          "mark": {"type": "rule", "strokeWidth": 5, "color": "black"},
          "encoding": {"x2": {"field": "t2"}, "y2": {"field": "v2"}}
        },
        {
          "data": {"values": [{"t": 0.9035, "v": 30.06}]},
          "mark": {"type": "point", "shape": "triangle-up", "filled": true, "color": "black", "opacity": 1, "size": 1600, "angle": 242.3}
        }
      ]
    }
  ]
}
